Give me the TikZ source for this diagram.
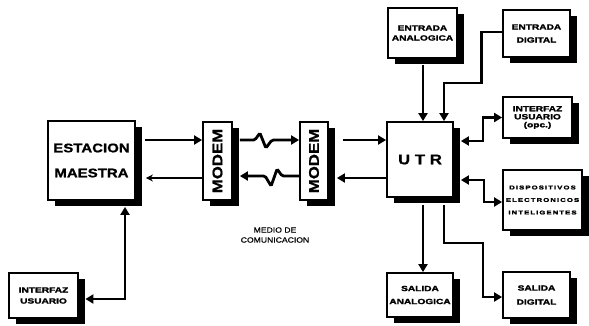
\documentclass[tikz,border=0pt]{standalone}
\usepackage{fontspec}
\setmainfont{Liberation Sans}
\newfontfamily\bigf[FakeStretch=1.2,BoldFeatures={FakeBold=1}]{Liberation Sans}
\newfontfamily\smf[FakeStretch=1.35,BoldFeatures={FakeBold=2}]{Liberation Sans}
\newfontfamily\tinyf[FakeStretch=1.4,LetterSpace=20,BoldFeatures={FakeBold=2}]{Liberation Sans}
\newfontfamily\medf[FakeStretch=1.15,FakeBold=0.6]{Liberation Sans}
\usetikzlibrary{arrows.meta,shadows}
\begin{document}
\begin{tikzpicture}[x=1pt,y=1pt,
  box/.style={draw, line width=1.8pt, fill=white, inner sep=0pt, align=center,
    general shadow={fill=black, shadow xshift=6.5pt, shadow yshift=-6pt}},
  bigtxt/.style={font={\bigf\bfseries\fontsize{#1}{25pt}\selectfont}},
  sm/.style={font={\smf\bfseries\fontsize{7.5pt}{#1}\selectfont}},
  con/.style={line width=2.8pt, -{Triangle[length=8pt,width=9pt]}},
  dcon/.style={line width=2.8pt, {Triangle[length=8pt,width=9pt]}-{Triangle[length=8pt,width=9pt]}},
  thincon/.style={line width=2.6pt, -{Stealth[length=7pt,width=7pt]}}
]
\useasboundingbox (0,0) rectangle (589,-325);

% blocks
\node[box, bigtxt=12.5pt, minimum width=87pt, minimum height=79pt] (em) at (91.5,-160.5) {ESTACION\\MAESTRA};
\node[box, bigtxt=14pt, minimum width=29pt, minimum height=78pt] (m1) at (217.5,-161) {\rotatebox{90}{MODEM}};
\node[box, bigtxt=14pt, minimum width=28pt, minimum height=78pt] (m2) at (314,-161) {\rotatebox{90}{MODEM}};
\node[box, bigtxt=14pt, minimum width=66pt, minimum height=75pt] (utr) at (420,-159.5) {U T R};
\node[box, sm=10pt, minimum width=69pt, minimum height=50pt] (ea) at (422.5,-33) {ENTRADA\\ANALOGICA};
\node[box, sm=13pt, minimum width=67pt, minimum height=47pt] (ed) at (536.5,-33.5) {ENTRADA\\DIGITAL};
\node[box, sm=8pt, minimum width=69pt, minimum height=41pt] (iu) at (537.5,-117.5) {INTERFAZ\\USUARIO\\(opc.)};
\node[box, font={\tinyf\bfseries\fontsize{5.5pt}{12.5pt}\selectfont}, minimum width=79pt, minimum height=60pt] (dei) at (542.5,-200) {DISPOSITIVOS\\ELECTRONICOS\\INTELIGENTES};
\node[box, sm=13pt, minimum width=66pt, minimum height=44pt] (sa) at (420,-295) {SALIDA\\ANALOGICA};
\node[box, sm=14pt, minimum width=67pt, minimum height=46pt] (sd) at (536.5,-295) {SALIDA\\DIGITAL};
\node[box, sm=11pt, minimum width=69pt, minimum height=45pt] (iu2) at (43.5,-295.5) {INTERFAZ\\USUARIO};

\node[font={\medf\fontsize{7.5pt}{10pt}\selectfont}, align=center] (medio) at (275,-235) {MEDIO DE\\COMUNICACION};

% connectors
\draw[con] ([xshift=9pt,yshift=20.5pt]em.east) -- ([yshift=21pt]m1.west);
\draw[thincon] ([yshift=-17pt]m1.west) -- ([xshift=10pt,yshift=-17.5pt]em.east);

\draw[con, rounded corners=1.5pt] ([xshift=7pt,yshift=21pt]m1.east) -- ++(15,0) -- ++(5,7) -- ++(6,-15) -- ++(6,8) -- ([yshift=21pt]m2.west);
\draw[con, rounded corners=1.5pt] ([yshift=-15pt]m2.west) -- ++(-17,0) -- ++(-5,7) -- ++(-6,-17) -- ++(-6,10) -- ([xshift=7pt,yshift=-15pt]m1.east);

\draw[con] ([xshift=14pt,yshift=21pt]m2.east) -- ([yshift=19.5pt]utr.west);
\draw[con] ([yshift=-18.5pt]utr.west) -- ([xshift=8pt,yshift=-17pt]m2.east);

\draw[con] ([xshift=0.5pt,yshift=-6pt]ea.south) -- ([xshift=3pt]utr.north);
\draw[con] ([yshift=1.5pt]ed.west) -| ++(-21,-51) -| ([xshift=24pt]utr.north);
\draw[dcon] ([xshift=7pt,yshift=18.5pt]utr.east) -- ++(22,0) |- (iu.west);
\draw[dcon] ([xshift=7pt,yshift=-20.5pt]utr.east) -- ++(23,0) |- ([yshift=-2pt]dei.west);
\draw[con] ([xshift=3pt,yshift=-7pt]utr.south) -- ([xshift=3pt]sa.north);
\draw[con] ([xshift=24pt,yshift=-7pt]utr.south) |- ++(39,-38) |- ([yshift=-2pt]sd.west);
\draw[dcon] ([xshift=33.5pt,yshift=-6pt]em.south) |- ([xshift=6.5pt,yshift=-3.5pt]iu2.east);
\end{tikzpicture}
\end{document}
